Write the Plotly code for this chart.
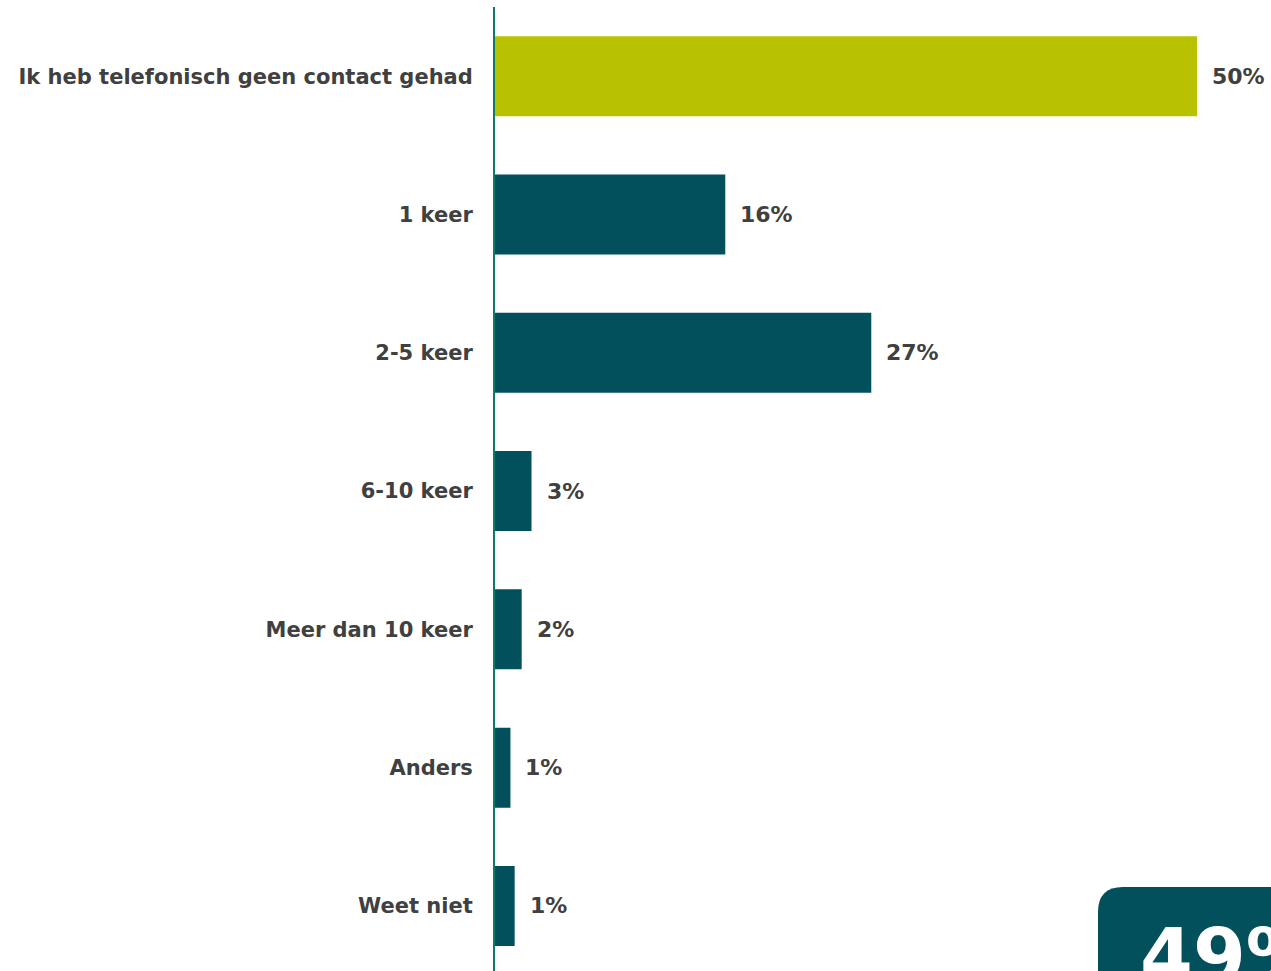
import plotly.graph_objects as go

# Survey answers: number of phone contacts
categories = [
    "Ik heb telefonisch geen contact gehad",
    "1 keer",
    "2-5 keer",
    "6-10 keer",
    "Meer dan 10 keer",
    "Anders",
    "Weet niet",
]
values = [50.0, 16.4, 26.8, 2.6, 1.9, 1.1, 1.4]
bar_colors = ["#b8c200", "#02505c", "#02505c", "#02505c", "#02505c", "#02505c", "#02505c"]
highlight_value = "49%"

W, H = 1271, 971
ML, MT, MB = 495, 7, 0
plot_w = W - ML
plot_h = H - MT - MB
band_px = 138.3
x_px_per_unit = 702 / 50.0

FONT = "DejaVu Sans"
TEXT_COLOR = "#404040"

fig = go.Figure()
fig.add_trace(go.Bar(
    x=values,
    y=categories,
    orientation="h",
    marker=dict(color=bar_colors, line=dict(width=0)),
    hoverinfo="skip",
))

# value labels to the right of each bar
for cat, v in zip(categories, values):
    fig.add_annotation(
        x=v, y=cat, xref="x", yref="y",
        text=f"<b>{v:.0f}%</b>",
        showarrow=False, xanchor="left", yanchor="middle",
        xshift=13,
        font=dict(family=FONT, size=22, color=TEXT_COLOR),
    )

def px_to_paper(px, py):
    return (px - ML) / plot_w, (H - MB - py) / plot_h

# rounded highlight box in the lower right corner
pts = [(1098, 990), (1098, 912), (1098, 887), (1123, 887), (1290, 887), (1290, 990)]
p = [px_to_paper(a, b) for a, b in pts]
path = (f"M {p[0][0]},{p[0][1]} L {p[1][0]},{p[1][1]} "
        f"Q {p[2][0]},{p[2][1]} {p[3][0]},{p[3][1]} "
        f"L {p[4][0]},{p[4][1]} L {p[5][0]},{p[5][1]} Z")
fig.add_shape(type="path", path=path, xref="paper", yref="paper",
              fillcolor="#02505c", line=dict(width=0), layer="above")

bx, by = px_to_paper(1138, 1003)
fig.add_annotation(
    x=bx, y=by, xref="paper", yref="paper",
    text=f"<b>{highlight_value}</b>", showarrow=False,
    xanchor="left", yanchor="bottom",
    font=dict(family=FONT, size=76, color="#ffffff"),
)

span = plot_h / band_px
fig.update_layout(
    width=W, height=H,
    margin=dict(l=ML, r=0, t=MT, b=MB, pad=0),
    paper_bgcolor="white", plot_bgcolor="white",
    bargap=1 - 80 / band_px,
    showlegend=False,
    xaxis=dict(range=[0, plot_w / x_px_per_unit], visible=False, fixedrange=True),
    yaxis=dict(
        range=[-0.5 + span, -0.5],
        categoryorder="array", categoryarray=categories,
        showline=True, linecolor="#0f7a6a", linewidth=2,
        showgrid=False, zeroline=False, ticks="",
        ticklabelstandoff=16,
        tickfont=dict(family=FONT, size=21, color=TEXT_COLOR, weight="bold"),
        fixedrange=True,
    ),
)

fig.write_html("out.html")
